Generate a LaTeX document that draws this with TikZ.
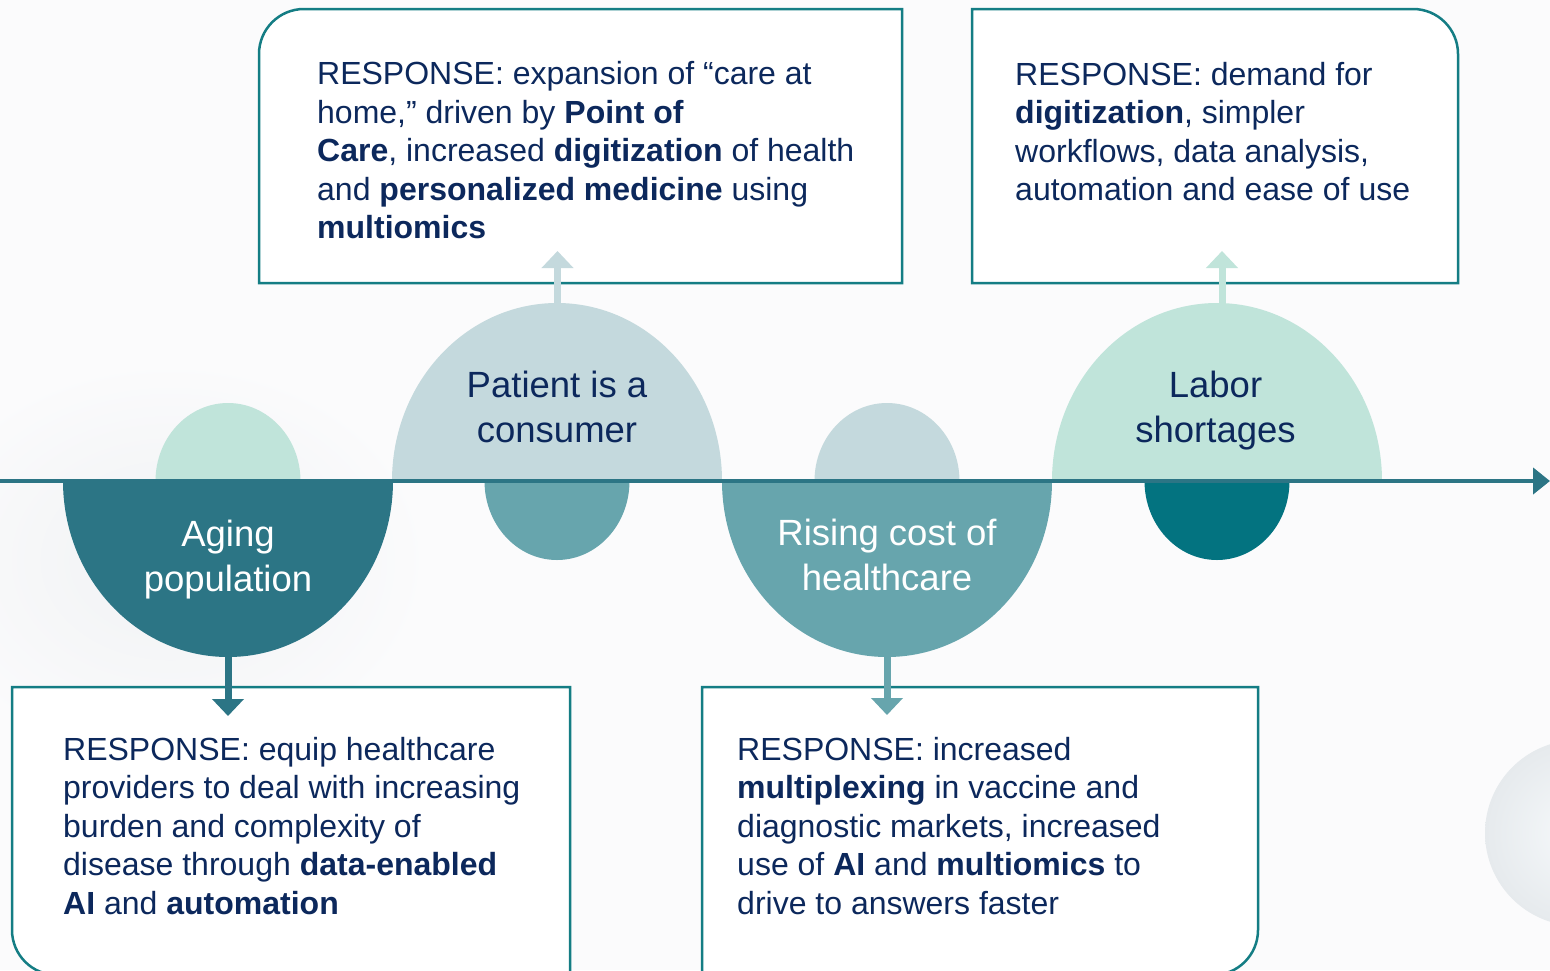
\documentclass[tikz,border=0pt]{standalone}
\usepackage{fontspec}
\setmainfont{Liberation Sans}
\usetikzlibrary{arrows.meta}
\definecolor{navy}{RGB}{12,40,92}
\definecolor{darkteal}{RGB}{44,117,133}
\definecolor{midteal}{RGB}{103,165,173}
\definecolor{paleblue}{RGB}{196,217,221}
\definecolor{mint}{RGB}{192,228,218}
\definecolor{deepteal}{RGB}{3,115,128}
\definecolor{boxline}{RGB}{20,125,132}
\definecolor{bg}{RGB}{251,251,252}
\definecolor{shadowgray}{RGB}{240,242,244}
\definecolor{sphereedge}{RGB}{230,234,237}
\definecolor{spherein}{RGB}{246,249,251}
\begin{document}
\begin{tikzpicture}[x=1pt,y=-1pt,
  boxframe/.style={draw=boxline, line width=2.5pt, fill=white},
  boxtext/.style={anchor=base west, align=left, inner sep=0pt, text=navy,
    font=\fontsize{32}{38.5}\selectfont},
  shapetext/.style={anchor=base, align=center, inner sep=0pt,
    font=\fontsize{36.5}{44.5}\selectfont},
  conn/.style={line width=7pt, -{Triangle[width=31pt,length=17pt]}},
  timeline/.style={line width=4.5pt, draw=darkteal, -{Triangle[width=26pt,length=17pt]}}
]
\useasboundingbox (0,0) rectangle (1550,970);
\fill[bg] (0,0) rectangle (1550,970);
% soft background shading
\shade[inner color=shadowgray, outer color=bg] (170,560) ellipse [x radius=260, y radius=200];
\shade[inner color=spherein, outer color=sphereedge] (1578,833) circle [radius=93];

% response boxes
\draw[boxframe] (259,283) -- (259,54) arc[start angle=180, end angle=270, radius=45] -- (902,9) -- (902,283) -- cycle;
\draw[boxframe] (972,283) -- (972,9) -- (1413,9) arc[start angle=270, end angle=360, radius=45] -- (1458,283) -- cycle;
\draw[boxframe] (12,687) -- (570,687) -- (570,975) -- (57,975) arc[start angle=90, end angle=180, radius=45] -- cycle;
\draw[boxframe] (702,975) -- (702,687) -- (1258,687) -- (1258,930) arc[start angle=0, end angle=90, radius=45] -- cycle;

% text nodes: base anchor sits on the last line's baseline
\node[boxtext] (r1) at (317,238.5) {RESPONSE: expansion of “care at\\home,” driven by \textbf{Point of}\\\textbf{Care}, increased \textbf{digitization} of health\\and \textbf{personalized medicine} using\\\textbf{multiomics}};
\node[boxtext] (r2) at (1015,200.5) {RESPONSE: demand for\\\textbf{digitization}, simpler\\workflows, data analysis,\\automation and ease of use};
\node[boxtext] (r3) at (63,914) {RESPONSE: equip healthcare\\providers to deal with increasing\\burden and complexity of\\disease through \textbf{data-enabled}\\\textbf{AI} and \textbf{automation}};
\node[boxtext] (r4) at (737,914) {RESPONSE: increased\\\textbf{multiplexing} in vaccine and\\diagnostic markets, increased\\use of \textbf{AI} and \textbf{multiomics} to\\drive to answers faster};

% small half discs
\fill[mint] (155.5,481) arc[start angle=180, end angle=360, x radius=72.5, y radius=78] -- cycle;
\fill[midteal] (484.5,481) arc[start angle=180, end angle=0, x radius=72.5, y radius=79] -- cycle;
\fill[paleblue] (814.5,481) arc[start angle=180, end angle=360, x radius=72.5, y radius=78] -- cycle;
\fill[deepteal] (1144.5,481) arc[start angle=180, end angle=0, x radius=72.5, y radius=79] -- cycle;

% big half discs
\fill[darkteal] (63,481) arc[start angle=180, end angle=0, x radius=165, y radius=176] -- cycle;
\fill[paleblue] (392,481) arc[start angle=180, end angle=360, x radius=165, y radius=178] -- cycle;
\fill[midteal] (722,481) arc[start angle=180, end angle=0, x radius=165, y radius=176] -- cycle;
\fill[mint] (1052,481) arc[start angle=180, end angle=360, x radius=165, y radius=178] -- cycle;

\node[shapetext, text=white] (aging) at (228,591) {Aging\\population};
\node[shapetext, text=navy] (patient) at (557,442) {Patient is a\\consumer};
\node[shapetext, text=white] (rising) at (887,590) {Rising cost of\\healthcare};
\node[shapetext, text=navy] (labor) at (1215.5,442) {Labor\\shortages};

% timeline
\coordinate (tstart) at (0,481);
\coordinate (tend) at (1550,481);
\draw[timeline] (tstart) -- (tend);

% connectors
\coordinate (agingbot) at (228,656);
\coordinate (r3tip) at (228,716);
\coordinate (patienttop) at (557.5,305);
\coordinate (r1tip) at (557.5,251);
\coordinate (risingbot) at (887,656);
\coordinate (r4tip) at (887,715);
\coordinate (labortop) at (1222,305);
\coordinate (r2tip) at (1222,251);
\draw[conn, darkteal] (agingbot) -- (r3tip);
\draw[conn, paleblue] (patienttop) -- (r1tip);
\draw[conn, midteal] (risingbot) -- (r4tip);
\draw[conn, mint] (labortop) -- (r2tip);
\end{tikzpicture}
\end{document}
